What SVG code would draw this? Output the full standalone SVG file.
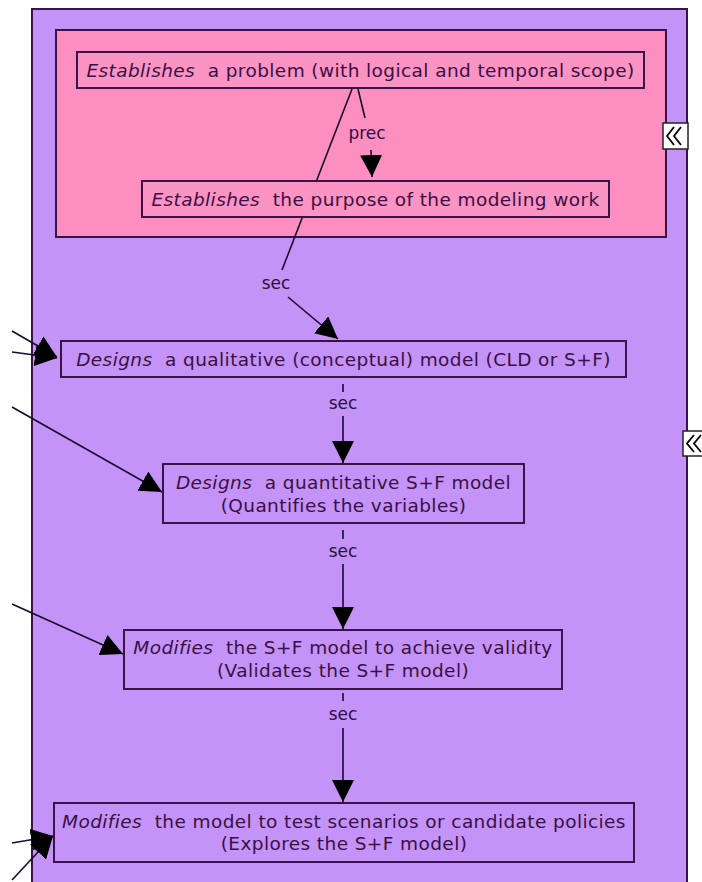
<svg xmlns="http://www.w3.org/2000/svg" width="702" height="882" viewBox="0 0 702 882">
  <defs>
    <marker id="arrowBig" viewBox="0 0 10 10" refX="10" refY="5" markerWidth="22" markerHeight="22" markerUnits="userSpaceOnUse" orient="auto">
      <path d="M0,0 L10,5 L0,10 z" fill="#000"/>
    </marker>
    <style>
      .frame { stroke: #3a1248; stroke-width: 2; }
      .outer { fill: #c493f7; }
      .inner { fill: #fd8ec0; }
      .nodeP { fill: #fb93c3; stroke: #3a1248; stroke-width: 2; }
      .nodeV { fill: #c493f7; stroke: #3a1248; stroke-width: 2; }
      .lbl { font-family: "DejaVu Sans", Verdana, sans-serif; font-size: 18.5px; letter-spacing: 0.4px; fill: #3a0f45; white-space: pre; text-anchor: middle; }
      .it { font-style: italic; }
      .link { font-family: "DejaVu Sans", Verdana, sans-serif; font-size: 17px; fill: #2a0f40; text-anchor: middle; }
      .conn { stroke: #1a0830; stroke-width: 1.6; fill: none; }
      .btn { fill: #ffffff; stroke: #222; stroke-width: 1.5; }
      .chev { fill: none; stroke: #000; stroke-width: 1.8; }
    </style>
  </defs>

  <rect width="702" height="882" fill="#ffffff"/>

  <!-- containers -->
  <g id="outer-group">
    <rect class="outer frame" x="32" y="9" width="655" height="890"/>
  </g>
  <g id="inner-group">
    <rect class="inner frame" x="56" y="30" width="610" height="207"/>
  </g>

  <!-- connectors -->
  <g id="connectors">
    <!-- prec -->
    <line class="conn" x1="358" y1="89" x2="365" y2="118"/>
    <text class="link" x="367" y="139">prec</text>
    <line class="conn" x1="371" y1="150" x2="372" y2="177" marker-end="url(#arrowBig)"/>

    <!-- sec: problem -> qualitative model -->
    <line class="conn" x1="352" y1="89" x2="282" y2="270"/>
    <text class="link" x="276" y="289">sec</text>
    <line class="conn" x1="288" y1="297" x2="338" y2="339" marker-end="url(#arrowBig)"/>

    <!-- sec: qualitative -> quantitative -->
    <line class="conn" x1="343" y1="384" x2="343" y2="392"/>
    <text class="link" x="343" y="409">sec</text>
    <line class="conn" x1="343" y1="416" x2="343" y2="463" marker-end="url(#arrowBig)"/>

    <!-- sec: quantitative -> validity -->
    <line class="conn" x1="343" y1="530" x2="343" y2="539"/>
    <text class="link" x="343" y="557">sec</text>
    <line class="conn" x1="343" y1="564" x2="343" y2="629" marker-end="url(#arrowBig)"/>

    <!-- sec: validity -> scenarios -->
    <line class="conn" x1="343" y1="693" x2="343" y2="701"/>
    <text class="link" x="343" y="720">sec</text>
    <line class="conn" x1="343" y1="728" x2="343" y2="802" marker-end="url(#arrowBig)"/>

    <!-- incoming links from the left -->
    <line class="conn" x1="12" y1="331" x2="57" y2="357" marker-end="url(#arrowBig)"/>
    <line class="conn" x1="12" y1="352" x2="57" y2="358" marker-end="url(#arrowBig)"/>
    <line class="conn" x1="12" y1="407" x2="162" y2="492" marker-end="url(#arrowBig)"/>
    <line class="conn" x1="12" y1="604" x2="123" y2="654" marker-end="url(#arrowBig)"/>
    <line class="conn" x1="12" y1="843" x2="53" y2="836" marker-end="url(#arrowBig)"/>
    <line class="conn" x1="12" y1="880" x2="53" y2="836" marker-end="url(#arrowBig)"/>
  </g>

  <!-- nodes -->
  <g id="node-problem">
    <rect class="nodeP" x="77" y="52" width="567" height="36"/>
    <text class="lbl" x="360.5" y="76.5"><tspan class="it">Establishes</tspan>  a problem (with logical and temporal scope)</text>
  </g>
  <g id="node-purpose">
    <rect class="nodeP" x="142" y="181" width="467" height="36"/>
    <text class="lbl" x="375.5" y="205.5"><tspan class="it">Establishes</tspan>  the purpose of the modeling work</text>
  </g>
  <g id="node-qualitative">
    <rect class="nodeV" x="61" y="341" width="565" height="36"/>
    <text class="lbl" x="343.5" y="365.5"><tspan class="it">Designs</tspan>  a qualitative (conceptual) model (CLD or S+F)</text>
  </g>
  <g id="node-quantitative">
    <rect class="nodeV" x="163" y="464" width="361" height="59"/>
    <text class="lbl" x="343.5" y="488.5"><tspan class="it">Designs</tspan>  a quantitative S+F model</text>
    <text class="lbl" x="343.5" y="511.5">(Quantifies the variables)</text>
  </g>
  <g id="node-validity">
    <rect class="nodeV" x="124" y="630" width="438" height="59"/>
    <text class="lbl" x="343" y="653.5"><tspan class="it">Modifies</tspan>  the S+F model to achieve validity</text>
    <text class="lbl" x="343" y="676.5">(Validates the S+F model)</text>
  </g>
  <g id="node-scenarios">
    <rect class="nodeV" x="54" y="803" width="580" height="59"/>
    <text class="lbl" x="344" y="828"><tspan class="it">Modifies</tspan>  the model to test scenarios or candidate policies</text>
    <text class="lbl" x="344" y="850">(Explores the S+F model)</text>
  </g>

  <!-- collapse buttons -->
  <g id="button-inner">
    <rect class="btn" x="663" y="123" width="25" height="26"/>
    <polyline class="chev" points="674,127 667,136 674,145"/>
    <polyline class="chev" points="681,127 674,136 681,145"/>
  </g>
  <g id="button-outer">
    <rect class="btn" x="683" y="431" width="25" height="25"/>
    <polyline class="chev" points="694,435 687,443.5 694,452"/>
    <polyline class="chev" points="701,435 694,443.5 701,452"/>
  </g>
</svg>
